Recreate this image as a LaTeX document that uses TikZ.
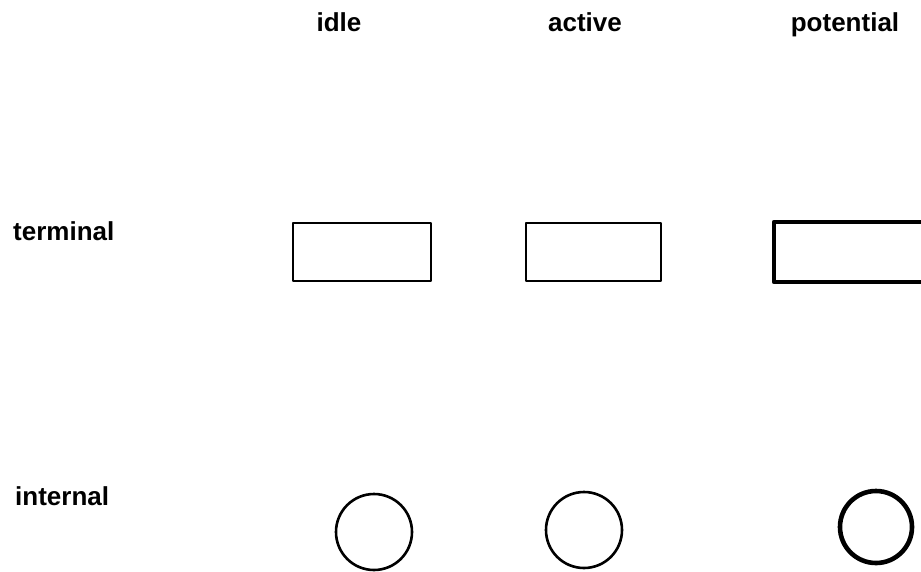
\documentclass[tikz,border=0pt]{standalone}
\usepackage{fontspec}
\setmainfont{Liberation Sans}
\usepackage{tikz}
\usetikzlibrary{positioning}
\tikzset{
    every picture/.style={line cap=round,line join=round},
    heading/.style={font=\fontsize{26}{30}\selectfont\bfseries,inner sep=0pt},
    termbox/.style={draw,rectangle,inner sep=0pt,line width=2.4pt},
    intcirc/.style={draw,circle,inner sep=0pt,line width=2.6pt},
    potline/.style={line width=4.6pt}
}
\begin{document}
\begin{tikzpicture}[x=1pt,y=-1pt]
  \useasboundingbox[fill=white] (0,0) rectangle (921,571);
  % column headings
  \node[heading,anchor=base] (hidle) at (339,31) {idle};
  \node[heading,anchor=base] (hactive) at (585,31) {active};
  \node[heading,anchor=base] (hpot) at (845,31) {potential};
  % row headings
  \node[heading,anchor=base west] (hterm) at (13,240) {terminal};
  \node[heading,anchor=base west] (hint) at (15,505) {internal};
  % terminal nodes
  \node[termbox,minimum width=137.5pt,minimum height=57.5pt] (tidle) at (362,252) {};
  \node[termbox,minimum width=134.5pt,minimum height=57.5pt] (tactive) at (593.5,252) {};
  \node[termbox,potline,minimum width=156pt,minimum height=60pt] (tpot) at (852,252) {};
  % internal nodes
  \node[intcirc,minimum size=76pt] (iidle) at (374,532) {};
  \node[intcirc,minimum size=76pt] (iactive) at (584,530) {};
  \node[intcirc,potline,minimum size=72pt] (ipot) at (876,527) {};
\end{tikzpicture}
\end{document}
